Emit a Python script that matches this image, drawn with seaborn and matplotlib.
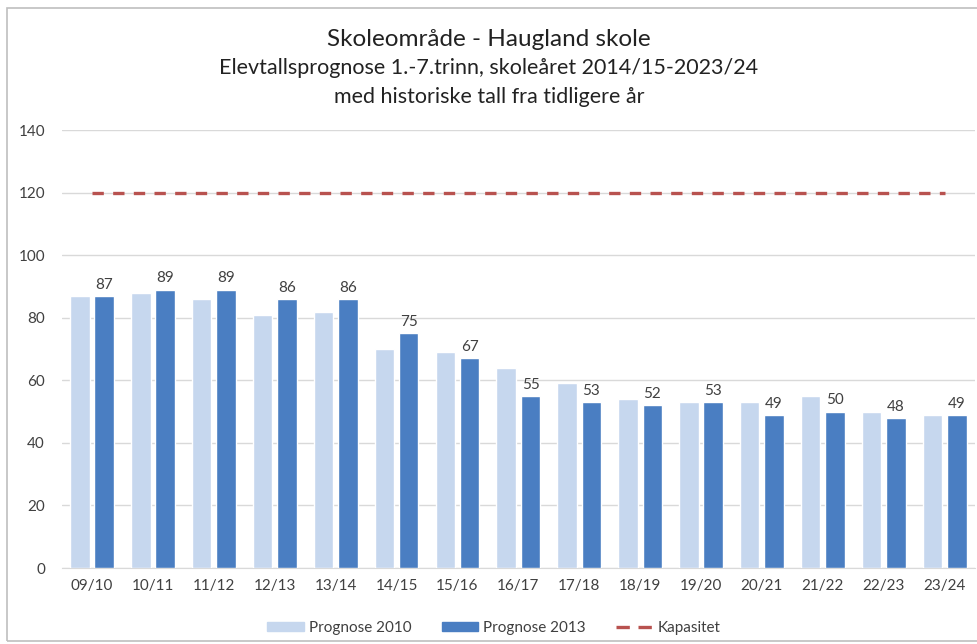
#!/usr/bin/env python3

import pandas as pd
import seaborn as sns
import matplotlib.pyplot as plt
from matplotlib.patches import Rectangle

years = ["09/10", "10/11", "11/12", "12/13", "13/14", "14/15", "15/16", "16/17",
         "17/18", "18/19", "19/20", "20/21", "21/22", "22/23", "23/24"]
prognose_2010 = [87, 88, 86, 81, 82, 70, 69, 64, 59, 54, 53, 53, 55, 50, 49]
prognose_2013 = [87, 89, 89, 86, 86, 75, 67, 55, 53, 52, 53, 49, 50, 48, 49]
kapasitet = [120] * len(years)

series = ["Prognose 2010", "Prognose 2013"]
colors = ["#C6D7EE", "#4A7EC2"]
text_col = "#404040"


def main():
    df = pd.DataFrame({
        "year": years * 2,
        "value": prognose_2010 + prognose_2013,
        "serie": [series[0]] * len(years) + [series[1]] * len(years),
    })

    sns.set_style("white")
    plt.rcParams["font.family"] = ["Lato", "DejaVu Sans"]

    fig = plt.figure(figsize=(9.78, 6.44), dpi=100)
    ax = fig.add_axes([0.063, 0.118, 0.934, 0.680])

    sns.barplot(data=df, x="year", y="value", hue="serie", palette=colors,
                saturation=1, width=0.8, gap=0.2, ax=ax, legend=False, zorder=3)

    # labels only on the 2013 series
    ax.bar_label(ax.containers[1], labels=[str(v) for v in prognose_2013],
                 padding=3, fontsize=11, color=text_col)

    dash = (0, (3.4, 2.8))
    sns.lineplot(x=list(range(len(years))), y=kapasitet, ax=ax, color="#B8524F",
                 linestyle=dash, linewidth=2.4, zorder=4)

    ax.set_ylim(0, 140)
    ax.set_yticks(range(0, 141, 20))
    ax.set_xlim(-0.5, len(years) - 0.5)
    ax.grid(axis="y", color="#D9D9D9", linewidth=1, zorder=0)
    ax.grid(axis="x", visible=False)
    for s in ["top", "right", "left"]:
        ax.spines[s].set_visible(False)
    ax.spines["bottom"].set_color("#D9D9D9")
    ax.tick_params(axis="both", length=0, labelsize=11, labelcolor=text_col, pad=8)
    ax.tick_params(axis="y", pad=12)
    ax.set_xlabel("")
    ax.set_ylabel("")

    fig.text(0.5, 0.938, "Skoleområde - Haugland skole", ha="center", va="center",
             fontsize=17.5, color="#222222")
    fig.text(0.5, 0.894, "Elevtallsprognose 1.-7.trinn, skoleåret 2014/15-2023/24",
             ha="center", va="center", fontsize=15.5, color="#222222")
    fig.text(0.5, 0.849, "med historiske tall fra tidligere år", ha="center",
             va="center", fontsize=15.5, color="#222222")

    handles = [Rectangle((0, 0), 1, 1, color=colors[0]),
               Rectangle((0, 0), 1, 1, color=colors[1]),
               plt.Line2D([], [], color="#B8524F", linestyle=(0, (4, 2.6)), linewidth=2.4)]
    fig.legend(handles, ["Prognose 2010", "Prognose 2013", "Kapasitet"],
               loc="center", bbox_to_anchor=(0.505, 0.025), ncol=3, frameon=False,
               fontsize=11, labelcolor=text_col, handlelength=2.4, handleheight=0.6,
               columnspacing=2.0, handletextpad=0.3)

    # outer chart border
    fig.patches.append(Rectangle((0.007, 0.005), 1.0, 0.983, transform=fig.transFigure,
                                 fill=False, edgecolor="#BFBFBF", linewidth=1.2))

    plt.savefig("out.png", dpi=100)


if __name__ == "__main__":
    main()
